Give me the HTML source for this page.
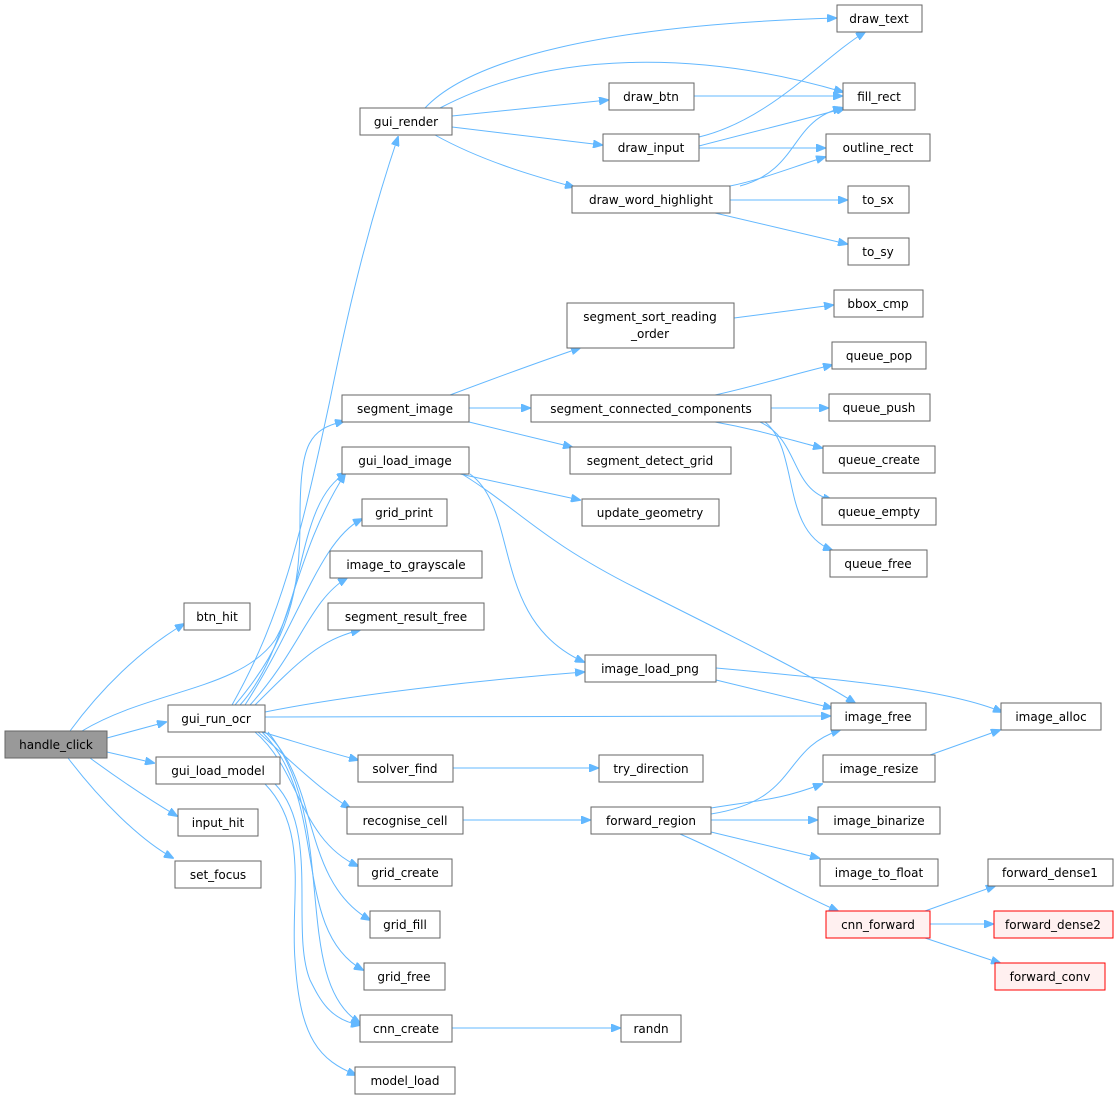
<!DOCTYPE html>
<html><head><meta charset="utf-8"><style>
html,body{margin:0;padding:0;background:#fff}
svg{display:block}
text{font-family:"DejaVu Sans","Liberation Sans",sans-serif;font-size:12px;fill:#000}
.n{fill:#fff;stroke:#666;stroke-width:1}
.e{fill:none;stroke:#63b8ff;stroke-width:1}
</style></head><body>
<svg width="1119" height="1100" viewBox="0 0 1119 1100" xmlns="http://www.w3.org/2000/svg">
<defs><marker id="a" markerWidth="10" markerHeight="8" refX="9" refY="4" orient="auto" markerUnits="userSpaceOnUse"><path d="M0,0 L10,4 L0,8 Z" fill="#63b8ff" stroke="#63b8ff"/></marker></defs>
<g class="edges">
<path class="e" marker-end="url(#a)" d="M70,731 C100,690 140,650 184,624"/>
<path class="e" marker-end="url(#a)" d="M107,738 L166,722"/>
<path class="e" marker-end="url(#a)" d="M107,752 L154,763"/>
<path class="e" marker-end="url(#a)" d="M90,758 C120,780 150,800 177,816"/>
<path class="e" marker-end="url(#a)" d="M68,758 C100,800 140,840 173,858"/>
<path class="e" marker-end="url(#a)" d="M82,731 C150,690 240,690 275,640 C305,590 300,500 346,473"/>
<path class="e" marker-end="url(#a)" d="M232,705 C280,620 300,540 330,400 C350,300 370,220 398,137"/>
<path class="e" marker-end="url(#a)" d="M235,705 C290,640 300,590 300,520 C300,440 310,430 344,421"/>
<path class="e" marker-end="url(#a)" d="M240,705 C290,650 290,560 345,474"/>
<path class="e" marker-end="url(#a)" d="M245,705 C300,620 320,540 362,519"/>
<path class="e" marker-end="url(#a)" d="M250,705 C300,650 310,600 347,578"/>
<path class="e" marker-end="url(#a)" d="M255,705 C300,660 320,640 360,630"/>
<path class="e" marker-end="url(#a)" d="M265,712 C350,695 480,680 584,672"/>
<path class="e" marker-end="url(#a)" d="M265,717 L830,716"/>
<path class="e" marker-end="url(#a)" d="M262,732 C290,740 320,750 358,760"/>
<path class="e" marker-end="url(#a)" d="M258,732 C290,760 320,790 350,808"/>
<path class="e" marker-end="url(#a)" d="M255,732 C300,770 300,840 358,866"/>
<path class="e" marker-end="url(#a)" d="M265,732 C320,780 300,880 370,920"/>
<path class="e" marker-end="url(#a)" d="M262,732 C330,800 290,930 363,970"/>
<path class="e" marker-end="url(#a)" d="M268,732 C340,820 290,980 360,1023"/>
<path class="e" marker-end="url(#a)" d="M265,784 C310,830 290,900 295,960 C300,1040 320,1060 356,1075"/>
<path class="e" marker-end="url(#a)" d="M275,784 C320,830 290,930 310,980 C320,1000 330,1020 360,1025"/>
<path class="e" marker-end="url(#a)" d="M425,108 C470,60 600,25 836,18"/>
<path class="e" marker-end="url(#a)" d="M440,108 C550,50 700,50 843,92"/>
<path class="e" marker-end="url(#a)" d="M452,116 L608,100"/>
<path class="e" marker-end="url(#a)" d="M452,127 L602,145"/>
<path class="e" marker-end="url(#a)" d="M435,135 C480,160 530,175 574,187"/>
<path class="e" marker-end="url(#a)" d="M694,96 L842,96"/>
<path class="e" marker-end="url(#a)" d="M699,137 C770,120 820,60 865,32"/>
<path class="e" marker-end="url(#a)" d="M699,146 C760,130 810,118 845,108"/>
<path class="e" marker-end="url(#a)" d="M699,148 L825,148"/>
<path class="e" marker-end="url(#a)" d="M730,186 C760,180 790,168 825,157"/>
<path class="e" marker-end="url(#a)" d="M740,186 C800,170 790,120 842,108"/>
<path class="e" marker-end="url(#a)" d="M730,200 L847,200"/>
<path class="e" marker-end="url(#a)" d="M715,213 L847,244"/>
<path class="e" marker-end="url(#a)" d="M450,395 C490,380 530,365 580,348"/>
<path class="e" marker-end="url(#a)" d="M469,408 L530,408"/>
<path class="e" marker-end="url(#a)" d="M469,422 L572,447"/>
<path class="e" marker-end="url(#a)" d="M734,318 L833,305"/>
<path class="e" marker-end="url(#a)" d="M715,395 C760,385 790,375 832,365"/>
<path class="e" marker-end="url(#a)" d="M771,408 L828,408"/>
<path class="e" marker-end="url(#a)" d="M715,422 C760,430 790,440 822,448"/>
<path class="e" marker-end="url(#a)" d="M760,422 C800,440 790,490 832,500"/>
<path class="e" marker-end="url(#a)" d="M765,422 C800,450 780,530 832,550"/>
<path class="e" marker-end="url(#a)" d="M460,474 L580,500"/>
<path class="e" marker-end="url(#a)" d="M470,474 C520,510 490,620 584,662"/>
<path class="e" marker-end="url(#a)" d="M462,474 C520,510 540,540 640,590 C740,640 820,680 855,703"/>
<path class="e" marker-end="url(#a)" d="M716,668 C850,680 950,690 1002,712"/>
<path class="e" marker-end="url(#a)" d="M716,680 L832,708"/>
<path class="e" marker-end="url(#a)" d="M453,768 L598,768"/>
<path class="e" marker-end="url(#a)" d="M463,820 L590,820"/>
<path class="e" marker-end="url(#a)" d="M711,808 C760,800 780,800 822,784"/>
<path class="e" marker-end="url(#a)" d="M711,814 C800,800 780,750 840,730"/>
<path class="e" marker-end="url(#a)" d="M711,820 L817,820"/>
<path class="e" marker-end="url(#a)" d="M711,832 L819,858"/>
<path class="e" marker-end="url(#a)" d="M680,834 C740,860 790,890 838,911"/>
<path class="e" marker-end="url(#a)" d="M930,755 L1000,730"/>
<path class="e" marker-end="url(#a)" d="M925,911 L995,886"/>
<path class="e" marker-end="url(#a)" d="M930,924 L993,924"/>
<path class="e" marker-end="url(#a)" d="M925,938 L1000,963"/>
<path class="e" marker-end="url(#a)" d="M452,1028 L620,1028"/>
</g>
<g>
<rect x="5" y="731" width="102" height="27" fill="#999" stroke="#666"/><text x="56" y="749" text-anchor="middle">handle_click</text>
<rect class="n" x="184" y="603" width="66" height="27"/><text x="217" y="621" text-anchor="middle">btn_hit</text>
<rect class="n" x="168" y="705" width="97" height="27"/><text x="216" y="723" text-anchor="middle">gui_run_ocr</text>
<rect class="n" x="156" y="757" width="124" height="27"/><text x="218" y="775" text-anchor="middle">gui_load_model</text>
<rect class="n" x="178" y="809" width="80" height="27"/><text x="218" y="827" text-anchor="middle">input_hit</text>
<rect class="n" x="175" y="861" width="86" height="27"/><text x="218" y="879" text-anchor="middle">set_focus</text>
<rect class="n" x="360" y="108" width="92" height="27"/><text x="406" y="126" text-anchor="middle">gui_render</text>
<rect class="n" x="342" y="395" width="127" height="27"/><text x="405" y="413" text-anchor="middle">segment_image</text>
<rect class="n" x="342" y="447" width="127" height="27"/><text x="405" y="465" text-anchor="middle">gui_load_image</text>
<rect class="n" x="362" y="499" width="85" height="27"/><text x="404" y="517" text-anchor="middle">grid_print</text>
<rect class="n" x="330" y="551" width="152" height="27"/><text x="406" y="569" text-anchor="middle">image_to_grayscale</text>
<rect class="n" x="328" y="603" width="156" height="27"/><text x="406" y="621" text-anchor="middle">segment_result_free</text>
<rect class="n" x="358" y="755" width="95" height="27"/><text x="405" y="773" text-anchor="middle">solver_find</text>
<rect class="n" x="347" y="807" width="116" height="27"/><text x="405" y="825" text-anchor="middle">recognise_cell</text>
<rect class="n" x="358" y="859" width="94" height="27"/><text x="405" y="877" text-anchor="middle">grid_create</text>
<rect class="n" x="370" y="911" width="70" height="27"/><text x="405" y="929" text-anchor="middle">grid_fill</text>
<rect class="n" x="364" y="963" width="81" height="27"/><text x="404" y="981" text-anchor="middle">grid_free</text>
<rect class="n" x="360" y="1015" width="92" height="27"/><text x="406" y="1033" text-anchor="middle">cnn_create</text>
<rect class="n" x="355" y="1067" width="100" height="27"/><text x="405" y="1085" text-anchor="middle">model_load</text>
<rect class="n" x="609" y="83" width="85" height="27"/><text x="651" y="101" text-anchor="middle">draw_btn</text>
<rect class="n" x="603" y="134" width="96" height="27"/><text x="651" y="152" text-anchor="middle">draw_input</text>
<rect class="n" x="572" y="186" width="158" height="27"/><text x="651" y="204" text-anchor="middle">draw_word_highlight</text>
<rect class="n" x="567" y="303" width="167" height="45"/><text x="650" y="321" text-anchor="middle">segment_sort_reading</text><text x="650" y="338" text-anchor="middle">_order</text>
<rect class="n" x="531" y="395" width="240" height="27"/><text x="651" y="413" text-anchor="middle">segment_connected_components</text>
<rect class="n" x="570" y="447" width="161" height="27"/><text x="650" y="465" text-anchor="middle">segment_detect_grid</text>
<rect class="n" x="582" y="499" width="137" height="27"/><text x="650" y="517" text-anchor="middle">update_geometry</text>
<rect class="n" x="585" y="655" width="131" height="27"/><text x="650" y="673" text-anchor="middle">image_load_png</text>
<rect class="n" x="599" y="755" width="104" height="27"/><text x="651" y="773" text-anchor="middle">try_direction</text>
<rect class="n" x="591" y="807" width="120" height="27"/><text x="651" y="825" text-anchor="middle">forward_region</text>
<rect class="n" x="621" y="1015" width="60" height="27"/><text x="651" y="1033" text-anchor="middle">randn</text>
<rect class="n" x="837" y="5" width="85" height="27"/><text x="879" y="23" text-anchor="middle">draw_text</text>
<rect class="n" x="843" y="83" width="72" height="27"/><text x="879" y="101" text-anchor="middle">fill_rect</text>
<rect class="n" x="826" y="134" width="104" height="27"/><text x="878" y="152" text-anchor="middle">outline_rect</text>
<rect class="n" x="848" y="186" width="61" height="27"/><text x="878" y="204" text-anchor="middle">to_sx</text>
<rect class="n" x="848" y="238" width="61" height="27"/><text x="878" y="256" text-anchor="middle">to_sy</text>
<rect class="n" x="834" y="290" width="89" height="27"/><text x="878" y="308" text-anchor="middle">bbox_cmp</text>
<rect class="n" x="832" y="342" width="94" height="27"/><text x="879" y="360" text-anchor="middle">queue_pop</text>
<rect class="n" x="829" y="394" width="101" height="27"/><text x="879" y="412" text-anchor="middle">queue_push</text>
<rect class="n" x="823" y="446" width="112" height="27"/><text x="879" y="464" text-anchor="middle">queue_create</text>
<rect class="n" x="822" y="498" width="114" height="27"/><text x="879" y="516" text-anchor="middle">queue_empty</text>
<rect class="n" x="830" y="550" width="97" height="27"/><text x="878" y="568" text-anchor="middle">queue_free</text>
<rect class="n" x="831" y="703" width="95" height="27"/><text x="878" y="721" text-anchor="middle">image_free</text>
<rect class="n" x="823" y="755" width="112" height="27"/><text x="879" y="773" text-anchor="middle">image_resize</text>
<rect class="n" x="818" y="807" width="122" height="27"/><text x="879" y="825" text-anchor="middle">image_binarize</text>
<rect class="n" x="820" y="859" width="118" height="27"/><text x="879" y="877" text-anchor="middle">image_to_float</text>
<rect x="826" y="911" width="104" height="27" fill="#fff0f0" stroke="#ff0000"/><text x="878" y="929" text-anchor="middle">cnn_forward</text>
<rect class="n" x="1001" y="703" width="100" height="27"/><text x="1051" y="721" text-anchor="middle">image_alloc</text>
<rect class="n" x="988" y="859" width="125" height="27"/><text x="1050" y="877" text-anchor="middle">forward_dense1</text>
<rect x="994" y="911" width="119" height="27" fill="#fff0f0" stroke="#ff0000"/><text x="1053" y="929" text-anchor="middle">forward_dense2</text>
<rect x="995" y="963" width="110" height="27" fill="#fff0f0" stroke="#ff0000"/><text x="1050" y="981" text-anchor="middle">forward_conv</text>
</g>
</svg>
</body></html>
